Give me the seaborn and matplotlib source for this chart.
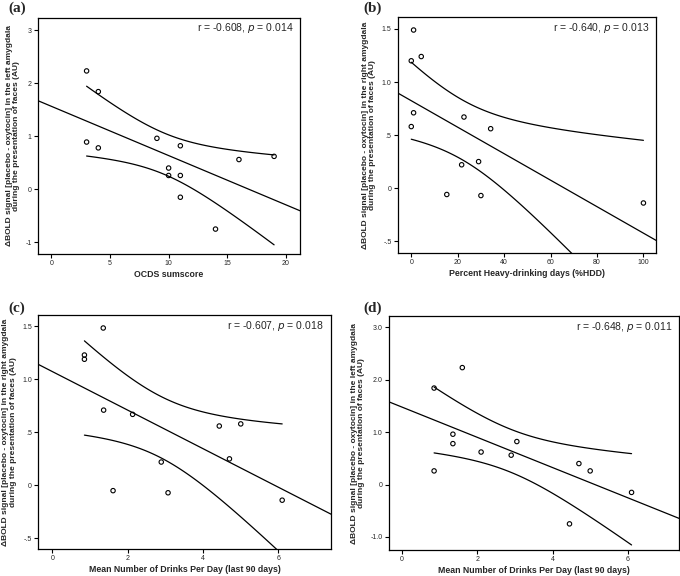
import numpy as np
import pandas as pd
import seaborn as sns
import matplotlib.pyplot as plt

# panel (a): OCDS sumscore vs left amygdala
ocds_x = [3, 4, 3, 4, 9, 11, 10, 10, 11, 11, 16, 19, 14]
ocds_y = [2.23, 1.84, 0.89, 0.78, 0.96, 0.82, 0.40, 0.26, 0.26, -0.15, 0.56, 0.62, -0.75]

# panel (b): %HDD vs right amygdala
hdd_x = [1, 0, 4.3, 1, 0, 22.7, 34.2, 21.7, 29, 15.3, 30, 100]
hdd_y = [1.49, 1.20, 1.24, 0.71, 0.58, 0.67, 0.56, 0.22, 0.25, -0.06, -0.07, -0.14]

# panel (c): drinks per day vs right amygdala
dpd_r_x = [1.35, 0.85, 0.85, 1.36, 2.13, 4.43, 5.0, 2.89, 4.7, 1.61, 3.07, 6.1]
dpd_r_y = [1.485, 1.23, 1.19, 0.71, 0.67, 0.56, 0.58, 0.22, 0.25, -0.05, -0.07, -0.14]

# panel (d): drinks per day vs left amygdala
dpd_l_x = [0.85, 1.6, 1.35, 1.35, 0.85, 2.1, 2.9, 3.05, 4.7, 5.0, 6.1, 4.45]
dpd_l_y = [1.84, 2.23, 0.96, 0.78, 0.26, 0.62, 0.56, 0.82, 0.40, 0.26, -0.15, -0.75]

stats_text = ["r = -0.608, $p$ = 0.014", "r = -0.640, $p$ = 0.013",
              "r = -0.607, $p$ = 0.018", "r = -0.648, $p$ = 0.011"]
panel_tags = ["(a)", "(b)", "(c)", "(d)"]
xlabels = ["OCDS sumscore", "Percent Heavy-drinking days (%HDD)",
           "Mean Number of Drinks Per Day (last 90 days)",
           "Mean Number of Drinks Per Day (last 90 days)"]
ylab_left = "ΔBOLD signal [placebo - oxytocin] in the left amygdala\nduring the presentation of faces (AU)"
ylab_right = "ΔBOLD signal [placebo - oxytocin] in the right amygdala\nduring the presentation of faces (AU)"
ylabels = [ylab_left, ylab_right, ylab_right, ylab_left]

xticks = [[0, 5, 10, 15, 20], [0, 20, 40, 60, 80, 100], [0, 2, 4, 6], [0, 2, 4, 6]]
yticks = [[-1, 0, 1, 2, 3], [-0.5, 0, 0.5, 1.0, 1.5], [-0.5, 0, 0.5, 1.0, 1.5],
          [-1.0, 0, 1.0, 2.0, 3.0]]
yticklabels = [["-1", "0", "1", "2", "3"], ["-.5", "0", ".5", "1.0", "1.5"],
               ["-.5", "0", ".5", "1.0", "1.5"], ["-1.0", "0", "1.0", "2.0", "3.0"]]
xlims = [(-1.14, 21.2), (-5.8, 105.5), (-0.38, 7.4), (-0.35, 7.37)]
ylims = [(-1.22, 3.23), (-0.61, 1.61), (-0.60, 1.607), (-1.25, 3.21)]

# axes rectangles in figure fraction [left, bottom, width, height]
rects = [[0.056, 0.559, 0.385, 0.410], [0.585, 0.561, 0.380, 0.409],
         [0.056, 0.047, 0.431, 0.406], [0.572, 0.045, 0.427, 0.406]]
tag_pos = [(0.012, 0.985), (0.534, 0.985), (0.012, 0.465), (0.534, 0.465)]

sns.set_theme(style="ticks")
plt.rcParams['font.family'] = ['Liberation Sans', 'DejaVu Sans']


def fit_lines(x, y, grid_full):
    x = np.asarray(x, float)
    y = np.asarray(y, float)
    n = len(x)
    b, a = np.polyfit(x, y, 1)
    resid = y - (a + b * x)
    s = np.sqrt(np.sum(resid ** 2) / (n - 2))
    sxx = np.sum((x - x.mean()) ** 2)
    t = 2.2281 if n == 12 else 2.2010  # t(0.975, n-2)
    xs = np.linspace(x.min(), x.max(), 100)
    half = t * s * np.sqrt(1.0 / n + (xs - x.mean()) ** 2 / sxx)
    fit = a + b * xs
    return a + b * grid_full, xs, fit - half, fit + half


fig = plt.figure(figsize=(6.8, 5.76), dpi=100)
datasets = [(ocds_x, ocds_y), (hdd_x, hdd_y), (dpd_r_x, dpd_r_y), (dpd_l_x, dpd_l_y)]

for i, (xv, yv) in enumerate(datasets):
    ax = fig.add_axes(rects[i])
    df = pd.DataFrame({"x": xv, "y": yv})
    grid = np.linspace(xlims[i][0] - 5, xlims[i][1] + 5, 50)
    line, xs, lo, hi = fit_lines(xv, yv, grid)
    sns.lineplot(x=grid, y=line, ax=ax, color="black", lw=0.9, sort=False)
    sns.lineplot(x=xs, y=lo, ax=ax, color="black", lw=0.9)
    sns.lineplot(x=xs, y=hi, ax=ax, color="black", lw=0.9)
    sns.scatterplot(data=df, x="x", y="y", ax=ax, marker="o", s=10,
                    facecolor="none", edgecolor="black", linewidth=0.8, zorder=3)
    ax.set_xlim(xlims[i])
    ax.set_ylim(ylims[i])
    ax.set_xticks(xticks[i])
    ax.set_yticks(yticks[i])
    ax.set_yticklabels(yticklabels[i])
    ax.tick_params(labelsize=5, length=3, width=0.8, color="black", pad=1.5)
    for sp in ax.spines.values():
        sp.set_visible(True)
        sp.set_color("black")
        sp.set_linewidth(0.9)
    ax.set_xlabel(xlabels[i], fontsize=6.3, fontweight="bold", labelpad=2)
    ax.set_ylabel(ylabels[i], fontsize=6, fontweight="bold", labelpad=4,
                  linespacing=1.05)
    ax.text(0.975, 0.955, stats_text[i], transform=ax.transAxes, ha="right",
            va="center", fontsize=7.5)
    fig.text(tag_pos[i][0], tag_pos[i][1], panel_tags[i], fontsize=11,
             fontweight="bold", family="Liberation Serif", va="center")

fig.savefig("out.png", dpi=100)
